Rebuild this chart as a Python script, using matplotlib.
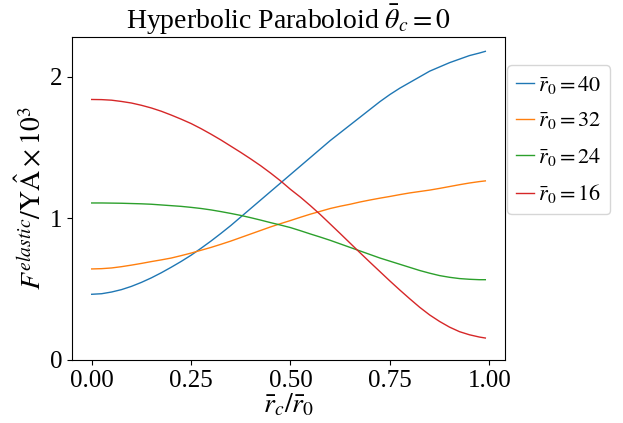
import matplotlib
matplotlib.use("Agg")
import matplotlib.pyplot as plt

plt.rcParams['font.family'] = 'serif'
plt.rcParams['font.serif'] = ['Liberation Serif', 'DejaVu Serif']
plt.rcParams['mathtext.fontset'] = 'stix'

x = [0.000, 0.025, 0.050, 0.075, 0.100, 0.125, 0.150, 0.175, 0.200, 0.225,
     0.250, 0.275, 0.300, 0.325, 0.350, 0.375, 0.400, 0.425, 0.450, 0.475,
     0.500, 0.525, 0.550, 0.575, 0.600, 0.625, 0.650, 0.675, 0.700, 0.725,
     0.750, 0.775, 0.800, 0.825, 0.850, 0.875, 0.900, 0.925, 0.950, 0.975,
     0.990]

r40 = [0.464, 0.468, 0.480, 0.497, 0.520, 0.548, 0.580, 0.616, 0.655, 0.696,
       0.740, 0.789, 0.840, 0.894, 0.950, 1.010, 1.070, 1.130, 1.190, 1.250,
       1.310, 1.370, 1.430, 1.490, 1.550, 1.605, 1.660, 1.715, 1.770, 1.825,
       1.875, 1.920, 1.960, 2.000, 2.040, 2.070, 2.100, 2.125, 2.150, 2.168,
       2.180]
r32 = [0.643, 0.645, 0.650, 0.659, 0.670, 0.682, 0.695, 0.707, 0.720, 0.737,
       0.755, 0.775, 0.795, 0.817, 0.840, 0.865, 0.890, 0.915, 0.940, 0.963,
       0.985, 1.008, 1.030, 1.050, 1.070, 1.086, 1.100, 1.116, 1.130, 1.143,
       1.155, 1.168, 1.180, 1.190, 1.200, 1.212, 1.225, 1.238, 1.250, 1.260,
       1.265]
r24 = [1.109, 1.109, 1.108, 1.107, 1.105, 1.103, 1.100, 1.095, 1.090, 1.085,
       1.078, 1.070, 1.060, 1.048, 1.035, 1.021, 1.005, 0.988, 0.970, 0.953,
       0.935, 0.913, 0.890, 0.868, 0.845, 0.820, 0.795, 0.770, 0.745, 0.720,
       0.698, 0.676, 0.654, 0.632, 0.613, 0.596, 0.584, 0.575, 0.570, 0.567,
       0.567]
r16 = [1.840, 1.839, 1.835, 1.826, 1.815, 1.799, 1.780, 1.757, 1.730, 1.701,
       1.670, 1.634, 1.595, 1.554, 1.510, 1.466, 1.420, 1.372, 1.320, 1.265,
       1.205, 1.150, 1.090, 1.027, 0.960, 0.893, 0.825, 0.757, 0.690, 0.624,
       0.558, 0.494, 0.432, 0.372, 0.318, 0.272, 0.232, 0.200, 0.178, 0.162,
       0.155]

series = [(r40, 40), (r32, 32), (r24, 24), (r16, 16)]

fig = plt.figure(figsize=(6.23, 4.23), dpi=100)
ax = fig.add_axes([0.1156, 0.149, 0.695, 0.7635])

for vals, r0 in series:
    ax.plot(x, vals, lw=1, label=r'$\bar{r}_0 = %d$' % r0)

ax.set_ylim(bottom=0)
ax.set_xticks([0.0, 0.25, 0.5, 0.75, 1.0])
ax.set_xticklabels(['0.00', '0.25', '0.50', '0.75', '1.00'])
ax.set_yticks([0, 1, 2])
ax.tick_params(labelsize=18)
ax.set_title(r'Hyperbolic Paraboloid $\bar{\theta}_c = 0$', fontsize=20)
ax.set_xlabel(r'$\bar{r}_c/\bar{r}_0$', fontsize=20, labelpad=0)
ax.set_ylabel(r'$F^{elastic}/\mathrm{Y}\hat{\mathrm{A}}\times 10^3$', fontsize=20, labelpad=2)
ax.legend(loc='upper left', bbox_to_anchor=(1.0, 0.92), borderaxespad=0.1,
          fontsize=16, handlelength=0.8, handletextpad=0.2, labelspacing=0.65)

fig.savefig('out.png', dpi=100)
